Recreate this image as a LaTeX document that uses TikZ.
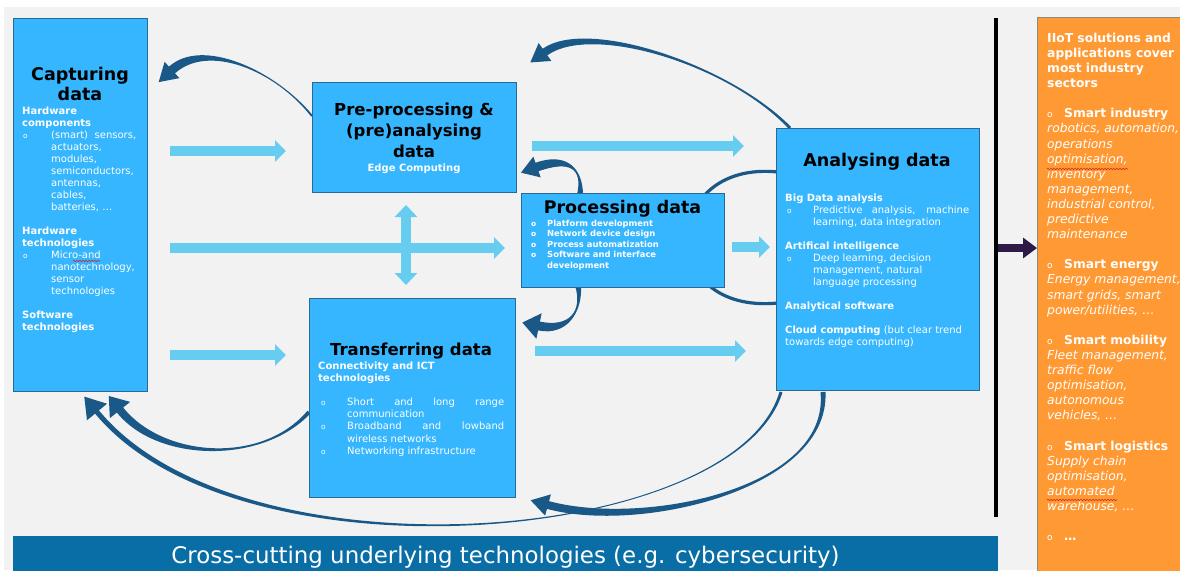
\documentclass[tikz,border=0pt]{standalone}
\usepackage{fontspec}
\setmainfont{DejaVu Sans}
\usetikzlibrary{arrows.meta,calc,decorations.pathmorphing}
\definecolor{boxblue}{RGB}{53,182,254}
\definecolor{boxborder}{RGB}{40,105,150}
\definecolor{lightarr}{RGB}{102,204,240}
\definecolor{darkarr}{RGB}{25,88,135}
\definecolor{bgray}{RGB}{242,242,242}
\definecolor{barblue}{RGB}{8,110,165}
\definecolor{orangebox}{RGB}{255,153,51}
\definecolor{purplearr}{RGB}{46,26,71}
\definecolor{orangeborder}{RGB}{140,140,120}
\definecolor{squig}{RGB}{210,40,40}
\newlength\bulw \newlength\bulpre
\newcommand\bul{\makebox[\bulw][l]{\hspace*{\bulpre}\fontsize{7.5}{8}\selectfont o}}
\newcommand\ind{\hspace*{\bulw}}
\newcommand\obul{\makebox[17pt][l]{\fontsize{9}{9}\selectfont o}}
% #1 tail, #2 c1, #3 c2, #4 head base, #5 body half width, #6 head half width, #7 head length, #8 tail half width
\newcommand\taperarrow[8]{%
  \fill[darkarr] ($(#1)!#8!-90:(#2)$) .. controls (#2) and ($(#3)!#5!-90:(#4)$) .. ($(#4)!#5!90:(#3)$)
    -- ($(#4)!#6!90:(#3)$) -- ($(#4)!-#7!(#3)$) -- ($(#4)!#6!-90:(#3)$) -- ($(#4)!#5!-90:(#3)$)
    .. controls ($(#3)!#5!90:(#4)$) and (#2) .. ($(#1)!#8!90:(#2)$) -- cycle;}
\begin{document}
\begin{tikzpicture}[x=1pt,y=-1pt,
  stagebox/.style={draw=boxborder, line width=0.8pt, fill=boxblue, inner sep=0, anchor=north west},
  bodytxt/.style={inner sep=0, anchor=base west, text=white},
  ttl/.style={inner sep=0, anchor=base, text=black},
  larrow/.style={draw=lightarr, line width=9.5pt, -{Triangle[width=21pt,length=11pt]}},
  ldarrow/.style={draw=lightarr, line width=10pt, {Triangle[width=22pt,length=12pt]}-{Triangle[width=22pt,length=12pt]}},
  squiggle/.style={draw=squig, line width=0.6pt, decorate, decoration={snake, amplitude=0.7pt, segment length=3pt}}]
\useasboundingbox (0,0) rectangle (1180,570);
\begin{scope}
\clip (0,0) rectangle (1180,570);
\fill[white] (0,0) rectangle (1180,570);
\fill[bgray] (4,7) rectangle (1180,570);

% ---- curved dark arrows (behind boxes)
\coordinate (a0) at (312,116); \coordinate (a1) at (275,70); \coordinate (a2) at (205,40); \coordinate (a3) at (172,70);
\taperarrow{a0}{a1}{a2}{a3}{4.5pt}{11pt}{18pt}{1pt}
\coordinate (b0) at (790,128); \coordinate (b1) at (730,65); \coordinate (b2) at (590,20); \coordinate (b3) at (545,52);
\taperarrow{b0}{b1}{b2}{b3}{4pt}{11pt}{18pt}{1.5pt}
\coordinate (c0) at (580,195); \coordinate (c1) at (583,168); \coordinate (c2) at (568,156); \coordinate (c3) at (537,167);
\taperarrow{c0}{c1}{c2}{c3}{4.5pt}{11pt}{17pt}{3pt}
\coordinate (d0) at (578,285); \coordinate (d1) at (583,312); \coordinate (d2) at (568,332); \coordinate (d3) at (539,326);
\taperarrow{d0}{d1}{d2}{d3}{4.5pt}{13pt}{17pt}{3pt}
\coordinate (f0) at (309,412); \coordinate (f1) at (262,465); \coordinate (f2) at (160,460); \coordinate (f3) at (120,410);
\taperarrow{f0}{f1}{f2}{f3}{4pt}{13pt}{18pt}{2pt}
\coordinate (g0) at (781,392); \coordinate (g1) at (735,545); \coordinate (g2) at (240,585); \coordinate (g3) at (97,412);
\taperarrow{g0}{g1}{g2}{g3}{2.5pt}{13pt}{20pt}{1.5pt}
\coordinate (h0) at (823,392); \coordinate (h1) at (830,490); \coordinate (h2) at (640,530); \coordinate (h3) at (548,505);
\taperarrow{h0}{h1}{h2}{h3}{4pt}{11pt}{18pt}{2.5pt}
\coordinate (e0) at (778,172); \coordinate (e1) at (660,160); \coordinate (e2) at (655,315); \coordinate (e3) at (778,303);
\draw[darkarr, line width=3.2pt] (e0) .. controls (e1) and (e2) .. (e3);

% ---- light block arrows
\coordinate (l1a) at (170,151); \coordinate (l1b) at (286,151);
\coordinate (l2a) at (170,248); \coordinate (l2b) at (505,248);
\coordinate (l3a) at (170,355); \coordinate (l3b) at (286,355);
\coordinate (l4a) at (532,146); \coordinate (l4b) at (744,146);
\coordinate (l5a) at (732,247); \coordinate (l5b) at (770,247);
\coordinate (l6a) at (535,351); \coordinate (l6b) at (746,351);
\coordinate (v0) at (406,205); \coordinate (v1) at (406,285);
\draw[larrow] (l1a) -- (l1b);
\draw[larrow] (l2a) -- (l2b);
\draw[larrow] (l3a) -- (l3b);
\draw[larrow] (l4a) -- (l4b);
\draw[larrow] (l5a) -- (l5b);
\draw[larrow] (l6a) -- (l6b);
\draw[ldarrow] (v0) -- (v1);

% ---- boxes
\node[stagebox, minimum width=134pt, minimum height=373pt] (cap) at (13,18) {};
\node[stagebox, minimum width=204pt, minimum height=110pt] (pre) at (312,82) {};
\node[stagebox, minimum width=203pt, minimum height=94pt] (proc) at (521,193) {};
\node[stagebox, minimum width=206pt, minimum height=199pt] (tra) at (309,298) {};
\node[stagebox, minimum width=203pt, minimum height=262pt] (ana) at (776,128) {};

% ---- Capturing data
\node[ttl] (capttl) at (80,80) {\parbox[t]{130pt}{\centering\fontsize{17.5}{20}\selectfont\bfseries Capturing\\data}};
\node[bodytxt] (captxt) at (22,114) {\parbox[t]{124pt}{\raggedright\fontsize{10}{12}\selectfont
\setlength\bulw{29pt}\setlength\bulpre{1pt}%
\textbf{Hardware}\\
\textbf{components}\\
\bul\makebox[85pt][s]{(smart) sensors,}\\
\ind actuators,\\
\ind modules,\\
\ind semiconductors,\\
\ind antennas,\\
\ind cables,\\
\ind batteries, …\\[12pt]
\textbf{Hardware}\\
\textbf{technologies}\\
\bul Micro-and\\
\ind nanotechnology,\\
\ind sensor\\
\ind technologies\\[12pt]
\textbf{Software}\\
\textbf{technologies}}};

% ---- Pre-processing
\node[ttl] (prettl) at (414,115.7) {\parbox[t]{200pt}{\centering\fontsize{16.5}{21}\selectfont\bfseries Pre-processing \&\\(pre)analysing\\data}};
\node[ttl, text=white] (edge) at (414,171.7) {\fontsize{10}{12}\selectfont\bfseries Edge Computing};

% ---- Processing
\node[ttl] (procttl) at (622.5,213) {\fontsize{17.4}{20}\selectfont\bfseries Processing data};
\node[bodytxt] (proctxt) at (531,226) {\parbox[t]{185pt}{\raggedright\fontsize{8.4}{10.5}\selectfont\bfseries
\setlength\bulw{16pt}\setlength\bulpre{0pt}%
\bul Platform development\\
\bul Network device design\\
\bul Process automatization\\
\bul Software and interface\\
\ind development}};

% ---- Transferring
\node[ttl] (trattl) at (411,355) {\fontsize{16.5}{20}\selectfont\bfseries Transferring data};
\node[bodytxt] (trahead) at (318,369) {\parbox[t]{190pt}{\raggedright\fontsize{10}{12}\selectfont\bfseries
Connectivity and ICT\\technologies}};
\node[bodytxt] (tratxt) at (318,405.7) {\parbox[t]{190pt}{\raggedright\fontsize{10}{12.1}\selectfont
\setlength\bulw{29pt}\setlength\bulpre{3pt}%
\bul\makebox[157pt][s]{Short and long range}\\
\ind communication\\
\bul\makebox[157pt][s]{Broadband and lowband}\\
\ind wireless networks\\
\bul Networking infrastructure}};

% ---- Analysing
\node[ttl] (anattl) at (877,166.7) {\fontsize{17.5}{20}\selectfont\bfseries Analysing data};
\node[bodytxt] (anatxt) at (785,201.7) {\parbox[t]{190pt}{\raggedright\fontsize{10}{12}\selectfont
\setlength\bulw{28pt}\setlength\bulpre{2pt}%
\textbf{Big Data analysis}\\
\bul\makebox[156pt][s]{Predictive analysis, machine}\\
\ind learning, data integration\\[12pt]
\textbf{Artifical intelligence}\\
\bul Deep learning, decision\\
\ind management, natural\\
\ind language processing\\[12pt]
\textbf{Analytical software}\\[12pt]
\textbf{Cloud computing} (but clear trend\\
towards edge computing)}};

% ---- separator and result arrow
\coordinate (sepT) at (996,18); \coordinate (sepB) at (996,517);
\draw[black, line width=4pt] (sepT) -- (sepB);
\coordinate (pa) at (998,248); \coordinate (pb) at (1037,248);
\draw[draw=purplearr, line width=8pt, -{Triangle[width=20pt,length=14pt]}] (pa) -- (pb);

% ---- orange box
\node[fill=orangebox, draw=orangeborder, line width=1pt, anchor=north west, minimum width=150pt, minimum height=560pt, inner sep=0] (iiot) at (1037,17) {};
\node[bodytxt] (iiottxt) at (1047,42.3) {\parbox[t]{200pt}{\raggedright\fontsize{12.3}{15.1}\selectfont
\textbf{IIoT solutions and}\\
\textbf{applications cover}\\
\textbf{most industry}\\
\textbf{sectors}\\[15.1pt]
\obul\textbf{Smart industry}\\
\textit{robotics, automation,}\\
\textit{operations}\\
\textit{optimisation,}\\
\textit{inventory}\\
\textit{management,}\\
\textit{industrial control,}\\
\textit{predictive}\\
\textit{maintenance}\\[15.1pt]
\obul\textbf{Smart energy}\\
\textit{Energy management,}\\
\textit{smart grids, smart}\\
\textit{power/utilities, …}\\[15.1pt]
\obul\textbf{Smart mobility}\\
\textit{Fleet management,}\\
\textit{traffic flow}\\
\textit{optimisation,}\\
\textit{autonomous}\\
\textit{vehicles, …}\\[15.1pt]
\obul\textbf{Smart logistics}\\
\textit{Supply chain}\\
\textit{optimisation,}\\
\textit{automated}\\
\textit{warehouse, …}\\[15.1pt]
\obul\textbf{…}}};

% ---- bottom bar
\node[fill=barblue, anchor=north west, minimum width=985pt, minimum height=40pt, inner sep=0] (bar) at (13,536) {};
\node[ttl, text=white] (bartxt) at (505.5,563) {\fontsize{22.9}{26}\selectfont Cross-cutting underlying technologies (e.g. cybersecurity)};

% ---- spell-check underlines
\coordinate (s1a) at (73,261); \coordinate (s1b) at (100,261);
\coordinate (s2a) at (1047,169); \coordinate (s2b) at (1128,169);
\coordinate (s3a) at (1047,500); \coordinate (s3b) at (1117,500);
\draw[squiggle] (s1a) -- (s1b);
\draw[squiggle] (s2a) -- (s2b);
\draw[squiggle] (s3a) -- (s3b);
\end{scope}
\end{tikzpicture}
\end{document}
